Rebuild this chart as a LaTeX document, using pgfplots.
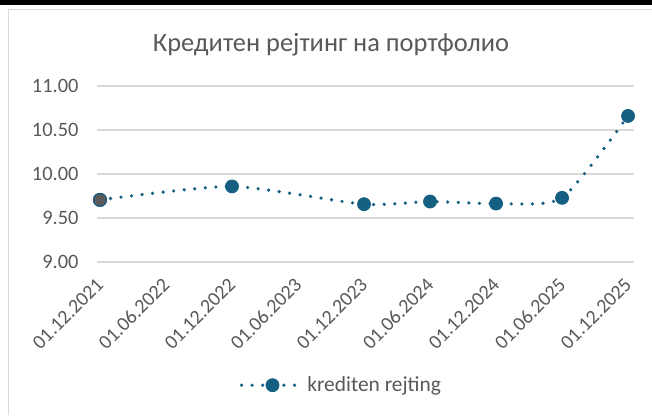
\documentclass[border=0pt]{standalone}
\usepackage{fontspec}
\setmainfont{Carlito}
\usepackage{pgfplots}
\pgfplotsset{compat=1.18}
\definecolor{acc}{HTML}{156082}
\definecolor{txt}{HTML}{595959}
\definecolor{gridc}{HTML}{D9D9D9}
\definecolor{firstfill}{HTML}{5A5A5A}
\begin{document}
\begin{tikzpicture}[x=1bp,y=1bp]
\useasboundingbox (0,0) rectangle (652,415);
\fill[white] (0,0) rectangle (652,415);
\draw[gridc, line width=1.2bp] (8.5,0) -- (8.5,405.5) -- (652,405.5);
\fill[black] (0,410) rectangle (652,415);
\node[text=txt, font=\fontsize{26.5}{30}\selectfont] at (331,370) {Кредитен рејтинг на портфолио};
\begin{axis}[
  at={(97bp,153bp)}, anchor=south west,
  scale only axis, width=537bp, height=176bp,
  xmin=-0.045, xmax=8.09, ymin=9, ymax=11,
  ytick={9,9.5,10,10.5,11},
  yticklabel style={/pgf/number format/fixed, /pgf/number format/fixed zerofill, /pgf/number format/precision=2},
  /pgf/number format/assume math mode=true,
  xtick={0,1,2,3,4,5,6,7,8},
  xticklabels={01.12.2021,01.06.2022,01.12.2022,01.06.2023,01.12.2023,01.06.2024,01.12.2024,01.06.2025,01.12.2025},
  xticklabel style={xshift=2.5bp, yshift=-17bp, rotate=45, anchor=east, font=\fontsize{20}{22}\selectfont, text=txt},
  yticklabel style={font=\fontsize{20.5}{23}\selectfont, text=txt, xshift=-15bp},
  axis line style={draw=none},
  major tick length=0pt,
  ymajorgrids, xmajorgrids=false, grid style={gridc, line width=1.2bp},
  legend style={at={(0.455,-0.70)}, anchor=center, draw=none, fill=none,
    font=\fontsize{21.5}{24}\selectfont, text=txt},
  legend image code/.code={\draw[mark repeat=2,mark phase=2] plot coordinates {(0bp,0bp) (31bp,0bp) (62bp,0bp)};},
  clip=false,
]
\addplot[acc, line width=3.6bp, line cap=round, dash pattern=on 0bp off 10.6bp, smooth, tension=0.38,
  mark=*, mark size=6.5bp, mark options={solid, fill=acc, draw=acc, line width=0.8bp}]
  coordinates {(0,9.706) (2,9.859) (4,9.657) (5,9.687) (6,9.664) (7,9.729) (8,10.66)};
\addlegendentry{krediten rejting}
\addplot[only marks, forget plot, mark=*, mark size=6.5bp, mark options={fill=firstfill, draw=acc, line width=1.2bp}]
  coordinates {(0,9.706)};
\end{axis}
\end{tikzpicture}
\end{document}
